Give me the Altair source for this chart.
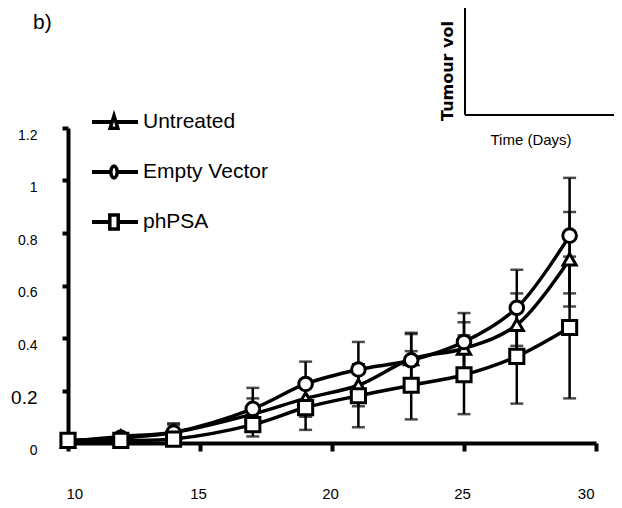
import altair as alt
import pandas as pd

FONT = "Liberation Sans, Arial, sans-serif"

days = [10, 12, 14, 17, 19, 21, 23, 25, 27, 29]
series_names = ["Untreated", "Empty Vector", "phPSA"]
untreated = [0.005, 0.025, 0.04, 0.11, 0.17, 0.22, 0.32, 0.36, 0.45, 0.70]
untreated_err = [0.005, 0.01, 0.03, 0.06, 0.07, 0.08, 0.10, 0.10, 0.12, 0.18]
empty_vector = [0.01, 0.02, 0.04, 0.13, 0.225, 0.28, 0.315, 0.385, 0.515, 0.79]
empty_vector_err = [0.005, 0.01, 0.035, 0.08, 0.085, 0.105, 0.10, 0.11, 0.145, 0.22]
phpsa = [0.01, 0.01, 0.015, 0.07, 0.135, 0.18, 0.22, 0.26, 0.33, 0.44]
phpsa_err = [0.005, 0.005, 0.01, 0.045, 0.085, 0.12, 0.13, 0.15, 0.18, 0.27]

x_ticks = [10, 15, 20, 25, 30]
y_ticks = [0, 0.2, 0.4, 0.6, 0.8, 1, 1.2]

rows = []
for name, vals, errs in zip(series_names,
                            [untreated, empty_vector, phpsa],
                            [untreated_err, empty_vector_err, phpsa_err]):
    for d, v, e in zip(days, vals, errs):
        rows.append({"day": d, "series": name, "value": v,
                     "lo": max(v - e, 0), "hi": v + e})
df = pd.DataFrame(rows)
legend_df = pd.DataFrame({"series": series_names})

x_enc = alt.X("day:Q", scale=alt.Scale(domain=[10, 30], nice=False, zero=False),
              axis=alt.Axis(values=x_ticks, title=None, grid=False,
                            domainColor="black", domainWidth=4,
                            tickColor="black", tickWidth=4, tickSize=8,
                            labelPadding=42, labelBaseline="middle",
                            labelFont=FONT, labelFontSize=15,
                            labelColor="black", labelOffset=-2))
y_enc = alt.Y("value:Q", scale=alt.Scale(domain=[0, 1.2], nice=False),
              axis=alt.Axis(values=y_ticks, title=None, grid=False, format="~g",
                            domainColor="black", domainWidth=4,
                            tickColor="black", tickWidth=4, tickSize=6,
                            labelPadding=25, labelAlign="right",
                            labelBaseline="middle", labelOffset=7,
                            labelFont=FONT,
                            labelFontSize=alt.expr("abs(datum.value - 0.2) < 0.01 ? 19 : 14"),
                            labelColor="black"))

base = alt.Chart(df)

rules = base.mark_rule(color="black", strokeWidth=2.5).encode(
    x="day:Q", y="lo:Q", y2="hi:Q")
caps_hi = base.mark_tick(color="black", thickness=2.5, size=13, orient="horizontal").encode(
    x="day:Q", y="hi:Q")
caps_lo = base.mark_tick(color="black", thickness=2.5, size=13, orient="horizontal").encode(
    x="day:Q", y="lo:Q")

lines = base.mark_line(color="black", strokeWidth=3.5, interpolate="catmull-rom").encode(
    x=x_enc, y=y_enc, detail="series:N")

points = base.mark_point(filled=True, fill="white", stroke="black", strokeWidth=3,
                         opacity=1).encode(
    x="day:Q", y="value:Q",
    shape=alt.Shape("series:N", scale=alt.Scale(domain=series_names,
                                                range=["triangle-up", "circle", "square"]),
                    legend=None),
    size=alt.Size("series:N", scale=alt.Scale(domain=series_names, range=[170, 200, 150]),
                  legend=None))

main = alt.layer(rules, caps_hi, caps_lo, lines, points)

# legend drawn as marks: a line, a marker and a label per series
leg_y = alt.Y("series:N", sort=series_names, axis=None,
              scale=alt.Scale(type="point", range=[-6, 94], padding=0))
leg_base = alt.Chart(legend_df)
leg_line = leg_base.mark_rule(color="black", strokeWidth=4).encode(
    y=leg_y, x=alt.value(24), x2=alt.value(70))
legend_paths = [
    "M0,-0.9L0.55,0.9L-0.55,0.9Z",
    "M0,-0.85A0.45,0.85 0 1,1 0,0.85A0.45,0.85 0 1,1 0,-0.85Z",
    "M-0.6,-1H0.6V1H-0.6Z",
]
leg_marker = leg_base.mark_point(filled=True, fill="white", stroke="black",
                                 strokeWidth=3.5, size=196, opacity=1).encode(
    y=leg_y, x=alt.value(46),
    shape=alt.Shape("series:N", scale=alt.Scale(domain=series_names, range=legend_paths),
                    legend=None))
leg_text = leg_base.mark_text(align="left", baseline="middle", font=FONT, fontSize=21,
                              color="black").encode(
    y=leg_y, x=alt.value(75), text="series:N")
legend = alt.layer(leg_line, leg_marker, leg_text)

b_label = alt.Chart(pd.DataFrame({"t": ["b)"]})).mark_text(
    align="left", baseline="alphabetic", fontSize=21, font=FONT, color="black").encode(
    x=alt.value(-35), y=alt.value(-99), text="t:N")

inset_title = alt.Chart(pd.DataFrame({"t": ["Tumour  vol"]})).mark_text(
    align="left", baseline="middle", angle=270, fontSize=16, font="DejaVu Sans",
    fontWeight="bold", color="black").encode(
    x=alt.value(380), y=alt.value(-7), text="t:N")

inset_xlabel = alt.Chart(pd.DataFrame({"t": ["Time (Days)"]})).mark_text(
    align="center", baseline="middle", fontSize=15, font=FONT, color="black").encode(
    x=alt.value(463), y=alt.value(12), text="t:N")

inset_vline = alt.Chart(pd.DataFrame({"k": [0]})).mark_rule(color="black", strokeWidth=2).encode(
    x=alt.value(397), y=alt.value(-150), y2=alt.value(-13))
inset_hline = alt.Chart(pd.DataFrame({"k": [0]})).mark_rule(color="black", strokeWidth=2).encode(
    x=alt.value(397), x2=alt.value(546), y=alt.value(-13))

chart = alt.layer(
    main, legend, b_label, inset_title, inset_xlabel, inset_vline, inset_hline
).resolve_scale(y="independent", shape="independent", size="independent").properties(
    width=528, height=315,
    autosize=alt.AutoSizeParams(type="none"),
    padding={"left": 60, "top": 120, "right": 18, "bottom": 57},
    background="white",
).configure_view(stroke=None)

chart.save("out.html", embed_options={"renderer": "svg", "actions": False})
